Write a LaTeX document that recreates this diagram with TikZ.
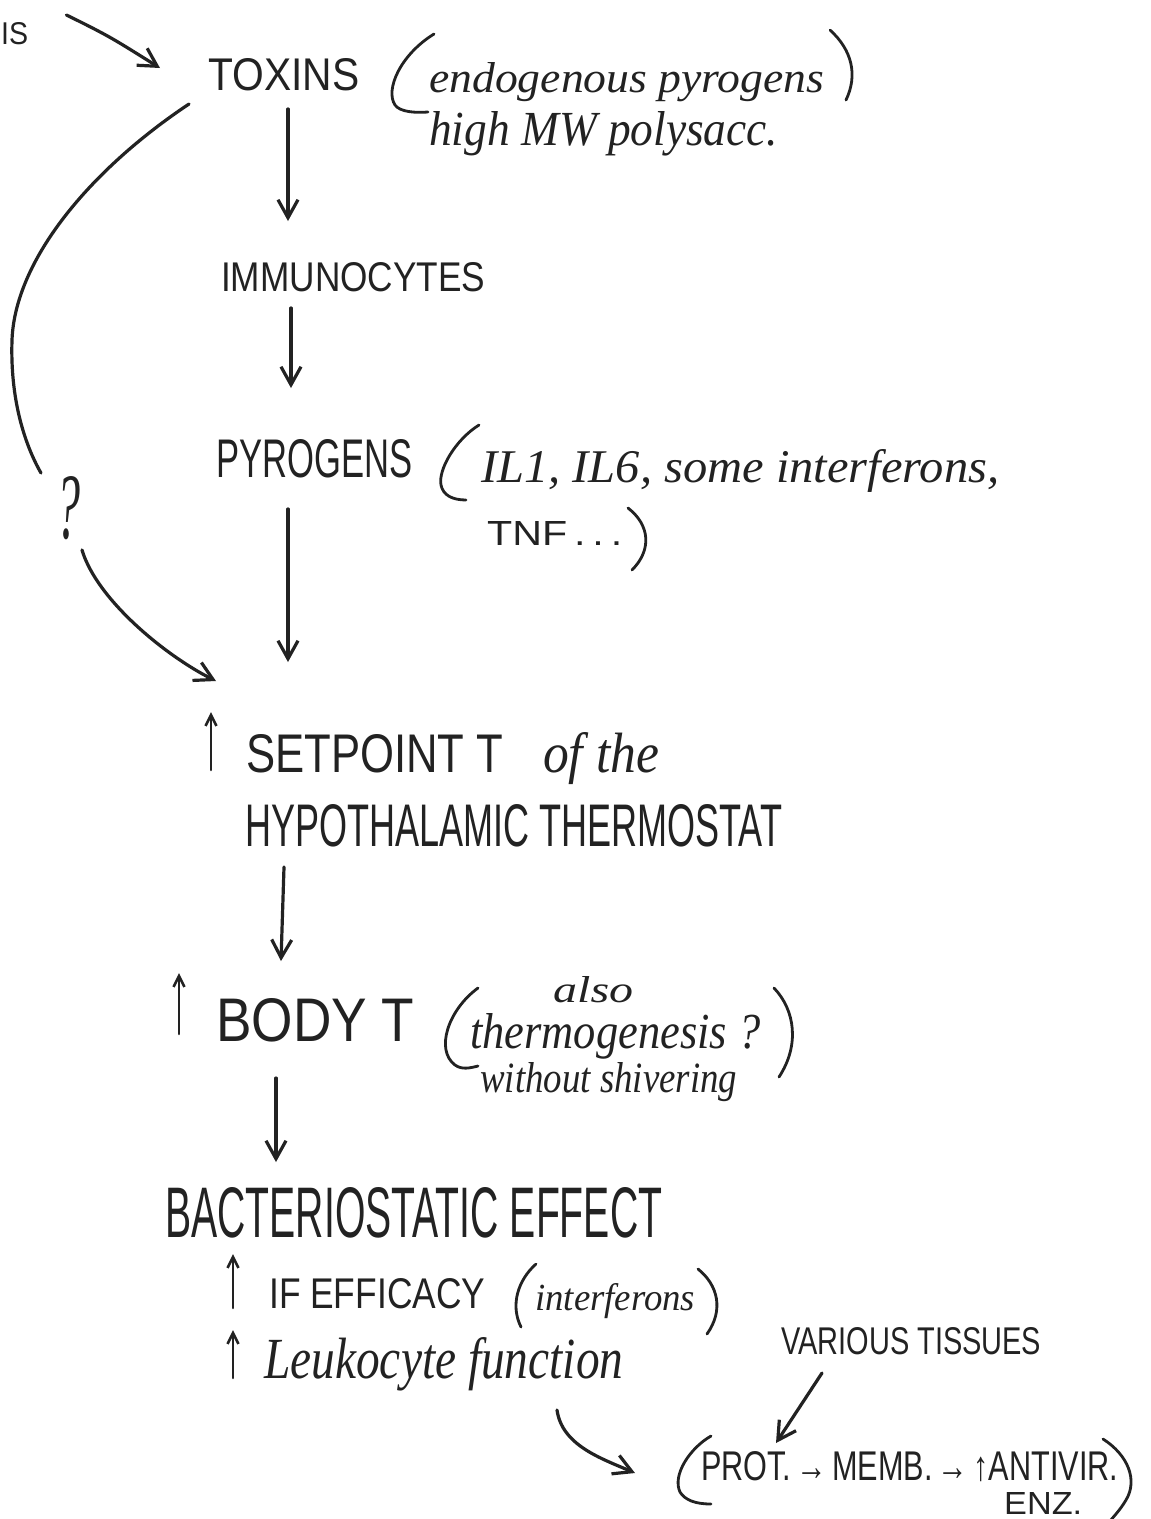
\documentclass[tikz,border=0pt]{standalone}
\usepackage{fontspec}
\setmainfont{Liberation Sans}
\newfontfamily\cursive{Liberation Serif}
\usetikzlibrary{arrows.meta,calc}
\definecolor{ink}{HTML}{222222}
% block capitals and cursive words, stretched to a given width and height
\newcommand\capt[3]{\resizebox{#1pt}{#2pt}{#3}}
\newcommand\curs[3]{\resizebox{#1pt}{#2pt}{\cursive\itshape #3}}

\begin{document}
\begin{tikzpicture}[x=1pt,y=-1pt,
  txt/.style={inner sep=0pt, anchor=base west, text=ink},
  pen/.style={draw=ink, line width=3.2pt, line cap=round, line join=round},
  flow/.style={pen, -{Straight Barb[length=18pt,width=20pt]}},
  rise/.style={pen, line width=2.6pt, -{Straight Barb[length=11pt,width=11pt]}},
  paren/.style={pen, line width=2.8pt}]
\useasboundingbox[fill=white] (0,0) rectangle (1151,1519);

% ---- texts ----
\node[txt] (is)      at (1,44)     {\capt{27}{22}{IS}};
\node[txt] (toxins)  at (208,90)   {\capt{151}{32}{TOXINS}};
\node[txt] (endo)    at (429,92)   {\curs{395}{30}{endogenous pyrogens}};
\node[txt] (hmw)     at (429,145)  {\curs{349}{34}{high MW polysacc.}};
\node[txt] (immuno)  at (221,291)  {\capt{264}{29}{IMMUNOCYTES}};
\node[txt] (pyro)    at (216,477)  {\capt{196}{38}{PYROGENS}};
\node[txt] (ils)     at (481,482)  {\curs{518}{33}{IL1, IL6, some interferons,}};
\node[txt] (tnf)     at (487,545)  {\capt{135}{24}{TNF\,.\,.\,.}};
\node[txt] (qmark)   at (56,538)   {\curs{24}{62}{?}};
\node[txt] (setp)    at (246,772)  {\capt{257}{38}{SETPOINT T}};
\node[txt] (ofthe)   at (543,772)  {\curs{116}{40}{of the}};
\node[txt] (hypo)    at (245,846)  {\capt{537}{42}{HYPOTHALAMIC THERMOSTAT}};
\node[txt] (body)    at (216,1041) {\capt{198}{43}{BODY T}};
\node[txt] (also)    at (553,1002) {\curs{80}{26}{also}};
\node[txt] (thermo)  at (470,1048) {\curs{290}{35}{thermogenesis ?}};
\node[txt] (without) at (480,1092) {\curs{257}{30}{without shivering}};
\node[txt] (bact)    at (165,1237) {\capt{497}{50}{BACTERIOSTATIC EFFECT}};
\node[txt] (ifeff)   at (269,1308) {\capt{216}{30}{IF EFFICACY}};
\node[txt] (interf)  at (535,1310) {\curs{160}{27}{interferons}};
\node[txt] (leuko)   at (264,1378) {\curs{359}{41}{Leukocyte function}};
\node[txt] (various) at (781,1354) {\capt{260}{27}{VARIOUS TISSUES}};
\node[txt] (prot)    at (701,1480) {\capt{417}{29}{PROT.\,→\,MEMB.\,→\,↑ANTIVIR.}};
\node[txt] (enz)     at (1004,1514){\capt{78}{22}{ENZ.}};

% ---- main chain ----
\draw[flow] ([xshift=38pt,yshift=29pt]is.base east)
  .. controls +(45,22) and +(-45,-28) .. ([xshift=-48pt,yshift=22pt]toxins.base west);
\draw[flow] ([xshift=80pt,yshift=-19pt]toxins.base west) -- ([xshift=67pt,yshift=70pt]immuno.base west);
\draw[flow] ([xshift=70pt,yshift=-17pt]immuno.base west) -- ([xshift=75pt,yshift=89pt]pyro.base west);
\draw[flow] ([xshift=72pt,yshift=-32pt]pyro.base west) -- ([xshift=42pt,yshift=110pt]setp.base west);
\draw[flow] ([xshift=39pt,yshift=-21pt]hypo.base west) -- ([xshift=65pt,yshift=80pt]body.base west);
\draw[flow] ([xshift=60pt,yshift=-37pt]body.base west) -- ([xshift=111pt,yshift=75pt]bact.base west);

% ---- side route from the toxins, with its question mark ----
\coordinate (loopL) at (12,340);
\draw[pen] ([xshift=-19pt,yshift=-14pt]toxins.base west)
  .. controls (90,170) and (15,260) .. (loopL)
  .. controls (10,400) and (25,445) .. ([xshift=-15pt,yshift=65pt]qmark.base west);
\draw[flow] ([xshift=26pt,yshift=-12pt]qmark.base west)
  .. controls +(15,50) and +(-50,-25) .. ([xshift=-30pt,yshift=91pt]setp.base west);

% ---- lower connectors ----
\draw[flow] ([xshift=293pt,yshift=-32pt]leuko.base west)
  .. controls +(5,35) and +(-35,-15) .. ([xshift=-66pt,yshift=7pt]prot.base west);
\draw[flow] ([xshift=41pt,yshift=-19pt]various.base west) -- ([xshift=75pt,yshift=37pt]prot.base west);

% ---- "increase" marks ----
\draw[rise] ([xshift=-35pt,yshift=2pt]setp.base west) -- ([xshift=-35pt,yshift=60pt]setp.base west);
\draw[rise] ([xshift=-37pt,yshift=7pt]body.base west) -- ([xshift=-37pt,yshift=68pt]body.base west);
\draw[rise] ([xshift=-36pt]ifeff.base west) -- ([xshift=-36pt,yshift=54pt]ifeff.base west);
\draw[rise] ([xshift=-31pt]leuko.base west) -- ([xshift=-31pt,yshift=48pt]leuko.base west);

% ---- hand-drawn brackets ----
\draw[paren] (434,34) .. controls (400,55) and (385,90) .. (395,105)
  .. controls (400,112) and (415,113) .. (428,112);
\draw[paren] (830,30) .. controls (852,50) and (858,75) .. (846,100);
\draw[paren] (479,425) .. controls (455,440) and (438,470) .. (441,485)
  .. controls (443,495) and (452,500) .. (466,500);
\draw[paren] (628,508) .. controls (650,525) and (652,550) .. (632,570);
\draw[paren] (478,988) .. controls (448,1010) and (435,1050) .. (455,1065)
  .. controls (462,1070) and (470,1068) .. (478,1066);
\draw[paren] (774,988) .. controls (795,1010) and (800,1045) .. (779,1077);
\draw[paren] (536,1264) .. controls (518,1280) and (510,1305) .. (521,1327);
\draw[paren] (698,1269) .. controls (718,1285) and (724,1310) .. (707,1334);
\draw[paren] (711,1436) .. controls (690,1448) and (672,1475) .. (680,1492)
  .. controls (685,1500) and (695,1504) .. (711,1504);
\draw[paren] (1103,1439) .. controls (1128,1455) and (1138,1480) .. (1126,1500)
  .. controls (1120,1510) and (1115,1515) .. (1110,1521);
\end{tikzpicture}
\end{document}
